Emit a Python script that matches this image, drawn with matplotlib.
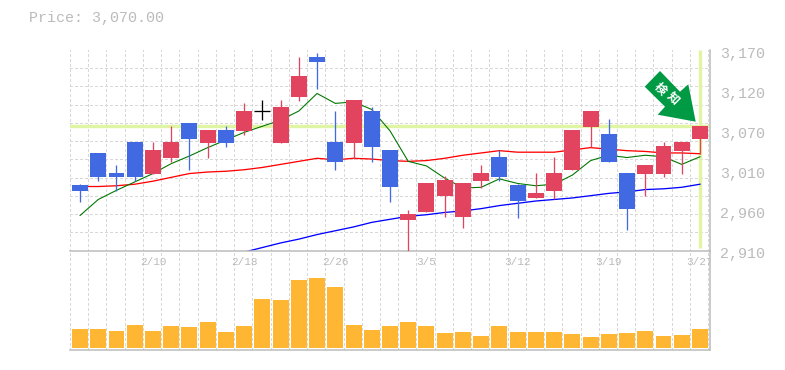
import numpy as np
import matplotlib
matplotlib.use("Agg")
import matplotlib.pyplot as plt
from matplotlib.patches import Polygon
from matplotlib.transforms import ScaledTranslation

opens  = [2993,3035,3009,3049,3008,3029,3074,3048,3065,3064,3090,3048,3108,3161,3049,3048,3090,3039,2947,2958,2979,2951,2998,3030,2993,2976,2985,3013,3069,3060,3009,3008,3008,3038,3053]
closes = [2985,3004,3004,3004,3039,3049,3053,3065,3048,3090,3090,3095,3136,3154,3023,3104,3043,2990,2955,2996,3000,2996,3009,3004,2972,2983,3009,3065,3090,3023,2962,3019,3044,3049,3070]
highs  = [2994,3035,3019,3049,3049,3070,3074,3065,3070,3101,3104,3104,3161,3166,3090,3104,3095,3039,2960,2996,3005,2996,3019,3039,2994,3009,3030,3065,3090,3080,3009,3019,3049,3049,3070]
lows   = [2971,2998,2985,2998,3008,3023,3013,3029,3043,3059,3078,3048,3103,3119,3013,3027,3023,2971,2907,2958,2951,2937,2989,2998,2950,2976,2975,3013,3043,3023,2934,2979,3004,3008,3034]
volume = [19,19,17,24,17,22,21,27,16,22,50,49,69,71,62,23,18,22,27,22,15,16,12,22,16,16,16,14,11,14,15,17,12,13,19]
ma_short = [2953,2974,2986,2997,3008,3021,3031,3042,3052,3062,3070,3078,3090,3113,3100,3102,3092,3064,3024,3018,3002,2989,2990,3001,2995,2992,2994,3006,3025,3032,3029,3032,3030,3020,3030]
ma_mid = [2991,2991,2992,2994,2998,3003,3008,3010,3011,3013,3016,3020,3024,3028,3026,3028,3027,3025,3024,3025,3028,3032,3035,3038,3036,3036,3036,3039,3042,3040,3038,3037,3035,3035,3034]
ma_long = [None]*9 + [2905,2911,2917,2922,2928,2933,2938,2944,2948,2952,2954,2957,2959,2962,2966,2969,2972,2974,2976,2979,2982,2984,2987,2988,2990,2994]
price_tick_values = [3170,3117.6,3065.2,3012.8,2960.4,2908]
price_tick_labels = ["3,170","3,120","3,070","3,010","2,960","2,910"]
date_positions = [4,9,14,19,24,29,34]
date_labels = ["2/10","2/18","2/26","3/5","3/12","3/19","3/27"]
current_price = 3070
title_text = "Price: 3,070.00"

W, H = 785, 370
RED, BLUE = "#E2445F", "#4169E1"
GRID, AXIS, TEXT = "#D8D8D8", "#BBBBBB", "#BBBBBB"
HILITE = "#E0F5A4"
MONO = "Liberation Mono"
px = 0.72  # points per pixel at dpi 100

fig = plt.figure(figsize=(W/100, H/100), dpi=100, facecolor="white")
def box(l, t, r, b):
    return [l/W, 1-b/H, (r-l)/W, (b-t)/H]
ax = fig.add_axes(box(70, 50, 710, 250.5))
av = fig.add_axes(box(70, 250.5, 710, 350))
av.patch.set_visible(False)
ax.set_zorder(2)

x = np.arange(len(opens))
xlim = (-0.548, 34.55)
grid_x = np.arange(0, 36) - 0.55
grid_x = grid_x[(grid_x > xlim[0] - 0.01) & (grid_x < xlim[1])]

# ---- shared frame
for a in (ax, av):
    a.set_xlim(*xlim)
    for s in ("top", "left"):
        a.spines[s].set_visible(False)
    for s in ("right", "bottom"):
        a.spines[s].set_color(AXIS)
        a.spines[s].set_linewidth(1.5*px)
    a.set_xticks(grid_x)
    a.tick_params(axis="x", length=0, labelbottom=False)
    a.grid(axis="x", color=GRID, lw=1*px, ls=(0, (2.2, 2.2)), zorder=0)
    a.set_axisbelow(True)
    for g in a.get_xgridlines():
        g.set_antialiased(False)

# ---- price panel
ylo, yhi = 2907.3, 3170
ax.set_ylim(ylo, yhi)
ax.yaxis.tick_right()
ax.set_yticks(price_tick_values)
ax.set_yticklabels(price_tick_labels, family=MONO, fontsize=15*px, color=TEXT)
ax.tick_params(axis="y", which="major", length=0, pad=10*px)
shift = ScaledTranslation(0, -2.7/100, fig.dpi_scale_trans)
for lab in ax.get_yticklabels():
    lab.set_transform(lab.get_transform() + shift)
ax.set_yticks(3170 - np.arange(0, 12)*23.9, minor=True)
ax.tick_params(axis="y", which="minor", length=0)
ax.grid(axis="y", which="minor", color=GRID, lw=1*px, ls=(0, (2.2, 2.2)), zorder=0)
for tick in ax.yaxis.get_minor_ticks():
    tick.gridline.set_antialiased(False)

ax.axhline(current_price, color=HILITE, lw=3.4*px, zorder=1)
ax.plot([x[-1], x[-1]], [2910, 3170], color=HILITE, lw=3.4*px, zorder=1, solid_capstyle="butt")

ax.plot(x, ma_long, color="#0000FF", lw=1.3*px, zorder=2)
ax.plot(x, ma_mid, color="#FF0000", lw=1.3*px, zorder=2)
ax.plot(x, ma_short, color="#007700", lw=1.1*px, zorder=2)

for i, (o, c, h, l) in enumerate(zip(opens, closes, highs, lows)):
    if o == c:
        col = "black"
    else:
        col = RED if c > o else BLUE
    ax.plot([i, i], [l, h], color=col, lw=1.3*px, zorder=3, solid_capstyle="butt")
    if o == c:
        ax.plot([i-0.44, i+0.44], [o, o], color=col, lw=1.3*px, zorder=3, solid_capstyle="butt")
    else:
        ax.bar(i, abs(c-o), bottom=min(o, c), width=0.877, color=col, lw=0, zorder=4)

# ---- volume panel
av.set_ylim(-2, 99.5)
av.set_yticks([])
av.bar(x, volume, width=0.877, color="#FFB733", lw=0, zorder=3)
tr = av.get_xaxis_transform()
for p, lab in zip(date_positions, date_labels):
    av.text(p, 0.88, lab, transform=tr, ha="center", va="center", family=MONO,
            fontsize=11*px, color=TEXT, clip_on=True, zorder=4)

# ---- title
fig.text(29/W, 1-18/H, title_text, family=MONO, fontsize=15*px, color=TEXT, ha="left", va="center")

# ---- arrow badge
arrow_px = [(660,71),(644.7,86.7),(665,106.7),(657.7,114.7),(695.7,121.7),(688.3,84.3),(680,91.7)]
fig.add_artist(Polygon([(a/W, 1-b/H) for a, b in arrow_px], closed=True, transform=fig.transFigure,
                       facecolor="#009944", edgecolor="none", zorder=6))
for ch, (a, b) in zip("検知", [(660.7, 89.3), (672.7, 99.3)]):
    fig.text(a/W, 1-b/H, ch, family="Noto Sans CJK JP", fontweight="bold", fontsize=12*px,
             color="white", rotation=-45, ha="center", va="center", rotation_mode="anchor", zorder=7)

fig.savefig("out.png", dpi=100, facecolor="white")
